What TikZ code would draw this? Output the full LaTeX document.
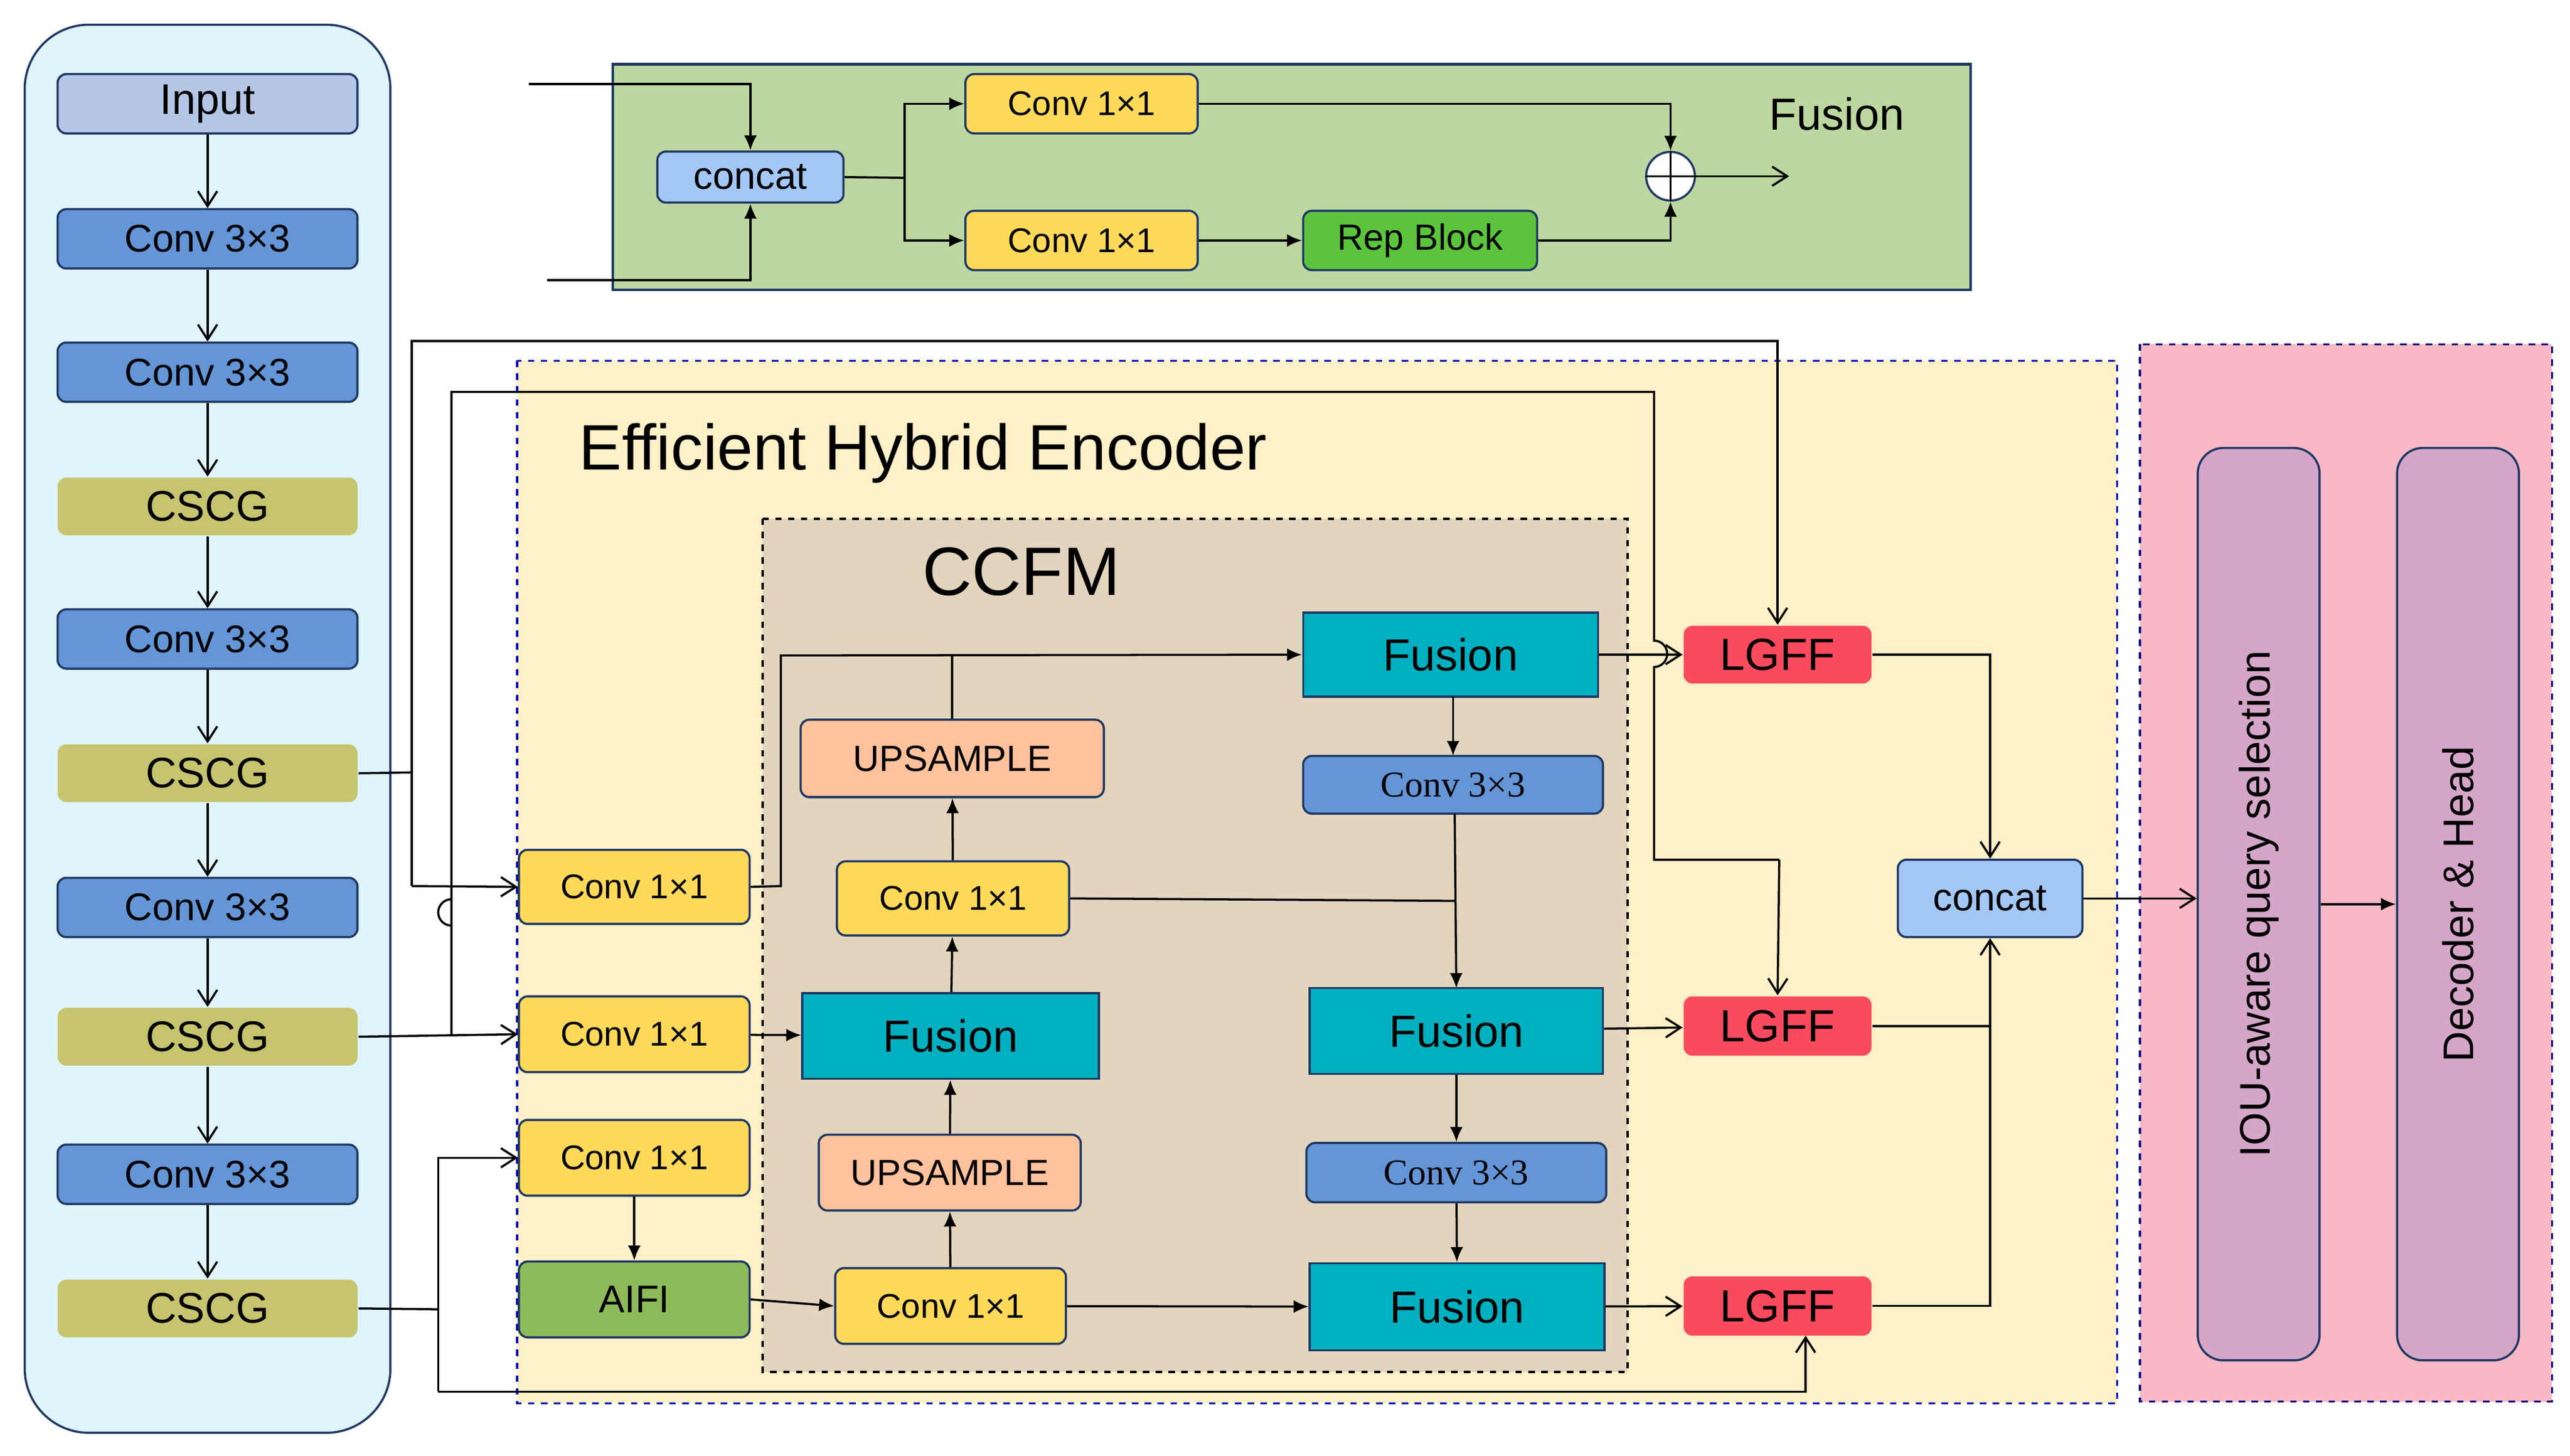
\documentclass[tikz,border=0pt]{standalone}
\usepackage{fontspec}
\setmainfont{Liberation Sans}
\newfontfamily\tms{Liberation Serif}
\usetikzlibrary{arrows.meta,shapes.geometric}
\definecolor{cblue}{HTML}{6495D6}
\definecolor{cinput}{HTML}{B4C7E7}
\definecolor{ccscg}{HTML}{C6C46E}
\definecolor{cyel}{HTML}{FFD95A}
\definecolor{corg}{HTML}{FFC29C}
\definecolor{cteal}{HTML}{00B0C0}
\definecolor{cred}{HTML}{FA4A5E}
\definecolor{ccat}{HTML}{A3C8F6}
\definecolor{cpgreen}{HTML}{BDD7A0}
\definecolor{crep}{HTML}{5CC43C}
\definecolor{caifi}{HTML}{8DBB5A}
\definecolor{cleft}{HTML}{DFF4FB}
\definecolor{cenc}{HTML}{FEF0C7}
\definecolor{cccfm}{HTML}{E2D4BD}
\definecolor{cpink}{HTML}{F9B8C5}
\definecolor{cbar}{HTML}{D5A6C8}
\definecolor{cnavy}{HTML}{1F3864}
\newcommand\mybox[7]{%
\pgfmathsetmacro\bw{(#5-#3)*0.02704}\pgfmathsetmacro\bh{(#6-#4)*0.02704}%
\node[#1,minimum width=\bw cm,minimum height=\bh cm,inner sep=0pt] (#2) at ({(#3+#5)/2},{(#4+#6)/2}) {#7};}
\tikzset{
 base/.style={draw=cnavy,line width=1pt,rounded corners=4pt},
 lb/.style={base,fill=cblue,font=\fontsize{18}{20}\selectfont},
 inp/.style={base,fill=cinput,font=\fontsize{20}{22}\selectfont},
 cscg/.style={base,draw=none,fill=ccscg,font=\fontsize{20}{22}\selectfont},
 yel/.style={base,fill=cyel,font=\fontsize{16}{18}\selectfont},
 org/.style={base,fill=corg,font=\fontsize{17}{19}\selectfont},
 fus/.style={draw=cnavy,line width=1pt,fill=cteal,font=\fontsize{21}{23}\selectfont},
 c33/.style={base,fill=cblue,font=\tms\fontsize{17}{19}\selectfont},
 lgff/.style={base,draw=none,fill=cred,font=\fontsize{21}{23}\selectfont},
 cat/.style={base,fill=ccat,font=\fontsize{18}{20}\selectfont},
 rep/.style={base,fill=crep,font=\fontsize{17}{19}\selectfont},
 aifi/.style={base,fill=caifi,font=\fontsize{18}{20}\selectfont},
 ln/.style={line width=1pt},
 oa/.style={ln,-{Straight Barb[length=7pt,width=9pt]}},
 fa/.style={ln,-{Latex[length=7pt,width=6pt]}},
}
\begin{document}
\begin{tikzpicture}[x=0.02704cm,y=-0.02704cm]
\useasboundingbox (0,0) rectangle (1560,884);
% panels
\draw[draw=cnavy,line width=1pt,fill=cleft,rounded corners=30pt] (15,15) rectangle (237,870);
\draw[draw=cnavy,line width=1.2pt,fill=cpgreen] (372,39) rectangle (1196,176);
\draw[draw=blue!70!black,dashed,line width=1pt,fill=cenc] (314,219) rectangle (1285,852);
\draw[black,dashed,line width=1.2pt,fill=cccfm] (463,315) rectangle (988,833);
\draw[draw=blue!50!black,dashed,line width=1pt,fill=cpink] (1299,209) rectangle (1549,851);
\node[anchor=west,font=\fontsize{30}{32}\selectfont] (enc) at (347,275) {Efficient Hybrid Encoder};
\node[font=\fontsize{32}{34}\selectfont] (ccfm) at (620,347) {CCFM};
\node[font=\fontsize{21}{23}\selectfont] (fusl) at (1115,69) {Fusion};
% left column
\mybox{inp}{in}{35}{45}{217}{81}{Input}
\mybox{lb}{c1}{35}{127}{217}{163}{Conv 3×3}
\mybox{lb}{c2}{35}{208}{217}{244}{Conv 3×3}
\mybox{cscg}{s1}{35}{290}{217}{325}{CSCG}
\mybox{lb}{c3}{35}{370}{217}{406}{Conv 3×3}
\mybox{cscg}{s2}{35}{452}{217}{487}{CSCG}
\mybox{lb}{c4}{35}{533}{217}{569}{Conv 3×3}
\mybox{cscg}{s3}{35}{612}{217}{647}{CSCG}
\mybox{lb}{c5}{35}{695}{217}{731}{Conv 3×3}
\mybox{cscg}{s4}{35}{777}{217}{812}{CSCG}
\foreach \a/\b in {in/c1,c1/c2,c2/s1,s1/c3,c3/s2,s2/c4,c4/s3,s3/c5,c5/s4}
 \draw[oa] (\a) -- (\b);
% fusion legend
\mybox{cat}{fc}{399}{92}{512}{123}{concat}
\mybox{yel}{f1}{586}{45}{727}{81}{Conv 1×1}
\mybox{yel}{f2}{586}{128}{727}{164}{Conv 1×1}
\mybox{rep}{rb}{791}{128}{933}{164}{Rep Block}
\node[circle,draw=cnavy,line width=1pt,fill=white,minimum size=0.8cm,inner sep=0pt] (op) at (1014,107) {};
\draw[ln] (op.north) -- (op.south) (op.west) -- (op.east);
\coordinate (ia) at (321,51); \coordinate (ib) at (332,170); \coordinate (oo) at (1086,107);
\draw[fa] (ia) -| (fc.north);
\draw[fa] (ib) -| (fc.south);
\draw[ln] (fc.east) -- (549,108);
\draw[fa] (549,108) |- (f1.west);
\draw[fa] (549,108) |- (f2.west);
\draw[fa] (f2) -- (rb);
\draw[fa] (f1.east) -| (op.north);
\draw[fa] (rb.east) -| (op.south);
\draw[oa] (op.east) -- (oo);
% encoder nodes
\mybox{yel}{ya}{315}{516}{455}{561}{Conv 1×1}
\mybox{yel}{yb}{315}{605}{455}{651}{Conv 1×1}
\mybox{yel}{yc}{315}{680}{455}{726}{Conv 1×1}
\mybox{aifi}{ai}{315}{766}{455}{812}{AIFI}
\mybox{org}{u1}{486}{437}{670}{484}{UPSAMPLE}
\mybox{yel}{m1}{508}{523}{649}{568}{Conv 1×1}
\mybox{fus}{fm}{487}{603}{667}{655}{Fusion}
\mybox{org}{u2}{497}{689}{656}{735}{UPSAMPLE}
\mybox{yel}{m2}{507}{770}{647}{816}{Conv 1×1}
\mybox{fus}{r1}{791}{372}{970}{423}{Fusion}
\mybox{c33}{k1}{791}{459}{973}{494}{Conv 3×3}
\mybox{fus}{r2}{795}{600}{973}{652}{Fusion}
\mybox{c33}{k2}{793}{694}{975}{730}{Conv 3×3}
\mybox{fus}{r3}{795}{767}{974}{820}{Fusion}
\mybox{lgff}{l1}{1022}{380}{1136}{415}{LGFF}
\mybox{lgff}{l2}{1022}{605}{1136}{641}{LGFF}
\mybox{lgff}{l3}{1022}{775}{1136}{811}{LGFF}
\mybox{cat}{cc}{1152}{522}{1264}{569}{concat}
\node[draw=cnavy,line width=1pt,fill=cbar,rounded corners=12pt,minimum width=74*0.02704cm,minimum height=554*0.02704cm] (iou) at (1371,549) {};
\node[rotate=90,font=\fontsize{20}{22}\selectfont] at (iou) {IOU-aware query selection};
\node[draw=cnavy,line width=1pt,fill=cbar,rounded corners=12pt,minimum width=74*0.02704cm,minimum height=554*0.02704cm] (dec) at (1492,549) {};
\node[rotate=90,font=\fontsize{20}{22}\selectfont] at (dec) {Decoder \& Head};
% backbone to encoder
\draw[ln] (s2.east) -- (250,469);
\draw[oa] (250,538) -- (250,207) -- (1079,207) -- (l1.north);
\draw[oa] (250,538) -- (ya.west);
\draw[oa] (s3.east) -- (yb.west);
\draw[ln] (274,629) -- (274,546) arc[start angle=-90,end angle=-270,radius=8] -- (274,238) -- (1004,238) -- (1004,389) arc[start angle=-90,end angle=90,radius=8] -- (1004,522) -- (1080,522);
\draw[oa] (1080,522) -- (l2.north);
\draw[ln] (s4.east) -- (266,795);
\draw[oa] (266,845) -- (266,703) -- (yc.west);
\draw[oa] (266,845) -- (1096,845) -- (1096,811);
% CCFM flow
\draw[fa] (ya.east) -- (474,538) -- (474,398) -- (r1.west);
\draw[ln] (u1.north) -- (578,398);
\draw[fa] (m1) -- (u1);
\draw[fa] (fm) -- (m1);
\draw[fa] (yb) -- (fm);
\draw[fa] (u2) -- (fm);
\draw[fa] (m2) -- (u2);
\draw[fa] (yc) -- (ai);
\draw[fa] (ai.east) -- (m2.west);
\draw[fa] (m2) -- (r3);
\draw[fa] (882,423) -- (882,459);
\draw[fa] (883,494) -- (884,600);
\draw[ln] (m1.east) -- (883,547);
\draw[fa] (r2) -- (k2);
\draw[fa] (k2) -- (r3);
\draw[oa] (r1) -- (l1);
\draw[oa] (r2) -- (l2);
\draw[oa] (r3) -- (l3);
\draw[oa] (l1.east) -| (cc.north);
\draw[ln] (l2.east) -- (1208,623);
\draw[oa] (l3.east) -| (cc.south);
\draw[oa] (cc.east) -- (iou.west |- cc.east);
\draw[fa] (iou.east) -- (dec.west);
\end{tikzpicture}
\end{document}
